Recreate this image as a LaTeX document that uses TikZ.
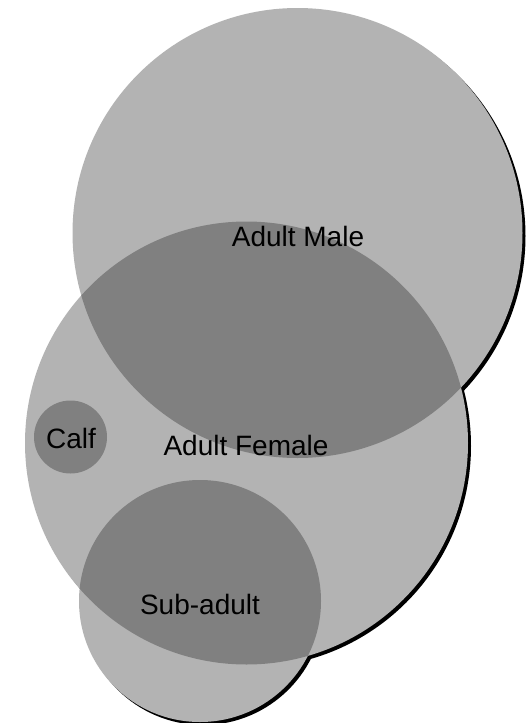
\documentclass[tikz,border=0pt]{standalone}
\usepackage{fontspec}
\setmainfont{Liberation Sans}
\definecolor{setfill}{RGB}{179,179,179}
\definecolor{overlapfill}{RGB}{128,128,128}
\tikzset{
  setlabel/.style={font=\fontsize{28}{32}\selectfont, text=black, inner sep=0pt},
}
\begin{document}
\begin{tikzpicture}[x=1pt,y=-1pt]
  \useasboundingbox (0,0) rectangle (525,723);
  \fill[white] (0,0) rectangle (525,723);
  % set outlines
  \def\male{(297.5,233) circle (225pt)}
  \def\female{(246.5,443) circle (221.5pt)}
  \def\subadult{(200,601) circle (121pt)}
  \def\calf{(70.5,437) circle (36.5pt)}
  % drop shadow of the union
  \fill[black, shift={(3,3)}] \male \female \subadult;
  % base sets
  \fill[setfill] \male \female \subadult;
  % overlaps
  \begin{scope}
    \clip \male;
    \fill[overlapfill] \female;
  \end{scope}
  \begin{scope}
    \clip \female;
    \fill[overlapfill] \subadult;
  \end{scope}
  \fill[overlapfill] \calf;
  % labels
  \node[setlabel] (lmale) at (298,236) {Adult Male};
  \node[setlabel] (lfemale) at (246,445) {Adult Female};
  \node[setlabel] (lcalf) at (71,438) {Calf};
  \node[setlabel] (lsub) at (200,604) {Sub-adult};
\end{tikzpicture}
\end{document}
